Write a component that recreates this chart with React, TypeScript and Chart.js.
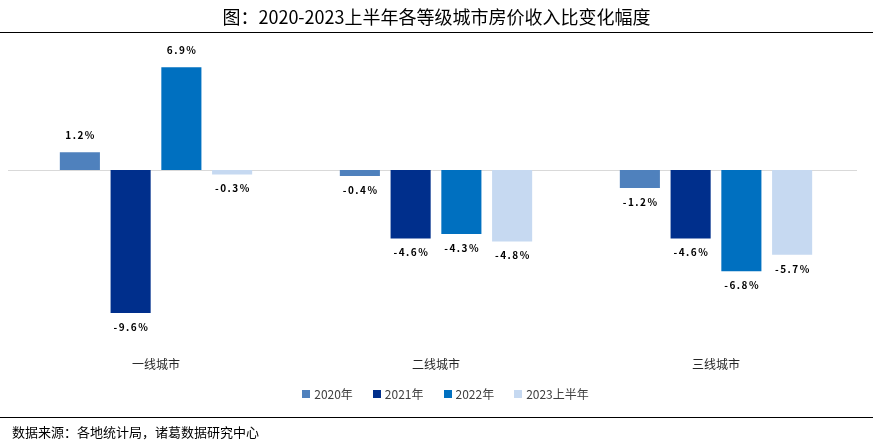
import React, { useEffect, useRef } from "react";
import { Chart, registerables } from "chart.js";

Chart.register(...registerables);

const categories = ["一线城市", "二线城市", "三线城市"];
const seriesNames = ["2020年", "2021年", "2022年", "2023上半年"];
const seriesColors = ["#4F81BD", "#002F8C", "#0070C0", "#C6D9F1"];
const v2020 = [1.2, -0.4, -1.2];
const v2021 = [-9.6, -4.6, -4.6];
const v2022 = [6.9, -4.3, -6.8];
const v2023h1 = [-0.3, -4.8, -5.7];
const titleText = "图：2020-2023上半年各等级城市房价收入比变化幅度";
const sourceText = "数据来源：各地统计局，诸葛数据研究中心";

const CJK = "'Noto Sans CJK SC', 'Noto Sans', sans-serif";

const zeroLinePlugin = {
  id: "zeroLine",
  beforeDatasetsDraw(chart: any) {
    const y = chart.scales.y.getPixelForValue(0);
    const ctx = chart.ctx;
    ctx.save();
    ctx.strokeStyle = "#D9D9D9";
    ctx.lineWidth = 1;
    ctx.beginPath();
    ctx.moveTo(8, Math.round(y) + 0.5);
    ctx.lineTo(857, Math.round(y) + 0.5);
    ctx.stroke();
    ctx.restore();
  },
};

const labelPlugin = {
  id: "valLabels",
  afterDatasetsDraw(chart: any) {
    const ctx = chart.ctx;
    ctx.save();
    ctx.font = `bold 10px ${CJK}`;
    (ctx as any).letterSpacing = "1.5px";
    ctx.fillStyle = "#000";
    ctx.textAlign = "center";
    ctx.textBaseline = "middle";
    chart.data.datasets.forEach((ds: any, di: number) => {
      const meta = chart.getDatasetMeta(di);
      meta.data.forEach((bar: any, i: number) => {
        const v = ds.data[i];
        const txt = v.toFixed(1) + "%";
        const y = v >= 0 ? bar.y - 17 : bar.y + 14;
        ctx.fillText(txt, bar.x + 0.75, y);
      });
    });
    ctx.restore();
  },
};

export default function App() {
  const ref = useRef<HTMLCanvasElement>(null);
  useEffect(() => {
    const datasets = [v2020, v2021, v2022, v2023h1].map((d, i) => ({
      label: seriesNames[i],
      data: d,
      backgroundColor: seriesColors[i],
      borderWidth: 0,
      barPercentage: 0.79,
      categoryPercentage: 0.725,
    }));
    const chart = new Chart(ref.current!, {
      type: "bar",
      data: { labels: categories, datasets },
      plugins: [zeroLinePlugin, labelPlugin],
      options: {
        animation: false,
        responsive: false,
        layout: { padding: { left: 16, right: 17, top: 51, bottom: 60 } },
        plugins: {
          legend: { display: false },
          tooltip: { enabled: false },
        },
        scales: {
          x: {
            grid: { display: false, drawTicks: false },
            border: { display: false },
            ticks: { color: "#262626", font: { size: 12, family: CJK }, padding: 9 },
          },
          y: {
            display: false,
            min: -12,
            max: 8,
          },
        },
      },
    });
    return () => chart.destroy();
  }, []);
  return (
    <div style={{ position: "fixed", left: 0, top: 0, width: 873, height: 441, background: "#fff" }}>
      <canvas ref={ref} width={873} height={441} style={{ position: "absolute", left: 0, top: 0 }} />
      <div
        style={{
          position: "absolute",
          top: 4,
          left: 0,
          width: 873,
          textAlign: "center",
          fontFamily: CJK,
          fontSize: 18,
          lineHeight: "24px",
          color: "#000",
        }}
      >
        {titleText}
      </div>
      <div style={{ position: "absolute", top: 32, left: 0, width: 873, height: 0, borderTop: "1.5px solid #000" }} />
      <div
        style={{
          position: "absolute",
          top: 386,
          left: 18,
          width: 855,
          height: 16,
          display: "flex",
          justifyContent: "center",
          alignItems: "center",
          gap: 20,
          fontFamily: CJK,
          fontSize: 12,
          color: "#404040",
        }}
      >
        {seriesNames.map((n, i) => (
          <div key={n} style={{ display: "flex", alignItems: "center", gap: 4 }}>
            <span style={{ display: "inline-block", width: 8, height: 8, background: seriesColors[i] }} />
            <span style={{ lineHeight: "16px" }}>{n}</span>
          </div>
        ))}
      </div>
      <div style={{ position: "absolute", top: 417, left: 0, width: 873, height: 0, borderTop: "1.5px solid #000" }} />
      <div
        style={{
          position: "absolute",
          top: 423,
          left: 12,
          fontFamily: CJK,
          fontSize: 13,
          lineHeight: "18px",
          color: "#000",
        }}
      >
        {sourceText}
      </div>
    </div>
  );
}
